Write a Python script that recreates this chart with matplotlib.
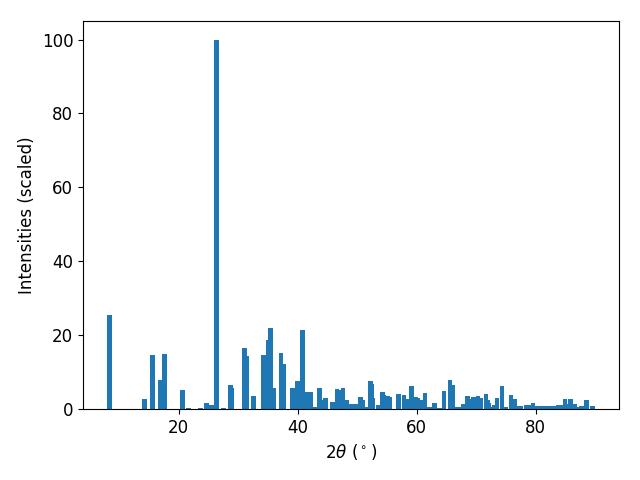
import matplotlib
matplotlib.use("Agg")
import matplotlib.pyplot as plt

two_theta = [8.4, 14.2, 15.6, 16.85, 17.6, 20.6, 21.7, 23.7, 24.7, 25.5,
             26.4, 27.5, 28.7, 28.9, 31.1, 31.4, 32.6, 34.3, 35.1, 35.45,
             35.97, 37.2, 37.7, 39.1, 40.0, 40.8, 41.4, 42.1, 43.0, 43.7,
             44.3, 44.7, 45.8, 46.6, 46.9, 47.6, 48.3, 49.1, 49.7, 50.6,
             50.9, 51.6, 52.3, 52.5, 52.65, 53.5, 54.3, 54.4, 55.15, 55.5,
             56.9, 57.85, 58.4, 59.1, 59.8, 60.1, 60.6, 61.4, 62.2, 63.05,
             63.8, 64.6, 65.6, 66.1, 66.9, 67.5, 67.9, 68.6, 69.1, 69.55,
             70.3, 70.8, 71.65, 72.0, 72.15, 72.8, 73.0, 73.5, 74.35, 75.0,
             75.85, 76.55, 76.9, 77.5, 78.4, 78.8, 79.55, 80.2, 80.9, 81.7,
             82.4, 83.0, 83.8, 84.2, 84.95, 85.4, 85.8, 86.55, 87.1, 87.7,
             88.5, 89.5]
intensity = [25.5, 2.7, 14.6, 7.9, 14.9, 5.1, 0.3, 0.3, 1.6, 1.1,
             100.0, 0.3, 6.5, 5.7, 16.5, 14.4, 3.5, 14.6, 18.7, 22.0,
             5.7, 15.2, 12.2, 5.7, 7.6, 21.4, 4.6, 4.6, 0.5, 5.7,
             2.4, 3.0, 1.9, 5.4, 5.1, 5.7, 2.4, 1.4, 1.4, 3.3,
             2.4, 0.5, 7.6, 6.8, 3.0, 1.1, 4.6, 3.8, 3.5, 3.3,
             4.1, 3.8, 2.7, 6.2, 3.3, 3.1, 2.4, 4.3, 0.5, 1.6,
             0.3, 4.9, 7.9, 6.5, 0.5, 0.5, 1.4, 3.5, 2.7, 3.3,
             3.5, 3.0, 4.1, 2.4, 1.6, 0.5, 1.1, 3.0, 6.2, 0.5,
             3.8, 2.7, 0.8, 0.8, 1.1, 1.1, 1.6, 0.8, 0.8, 0.8,
             0.8, 0.8, 1.1, 1.1, 2.7, 1.4, 2.7, 1.4, 0.5, 0.8,
             2.4, 0.8]

fig = plt.figure(figsize=(6.4, 4.8), dpi=100)
ax = fig.add_subplot(111)
fig.subplots_adjust(left=0.1297, right=0.967, top=0.956, bottom=0.148)
ax.bar(two_theta, intensity, width=0.8, color="#1f77b4")
ax.set_xlabel(r"$2\theta$ ($^\circ$)", fontsize=12)
ax.set_ylabel("Intensities (scaled)", fontsize=12)
ax.tick_params(labelsize=12)
fig.savefig("out.png", dpi=100)
